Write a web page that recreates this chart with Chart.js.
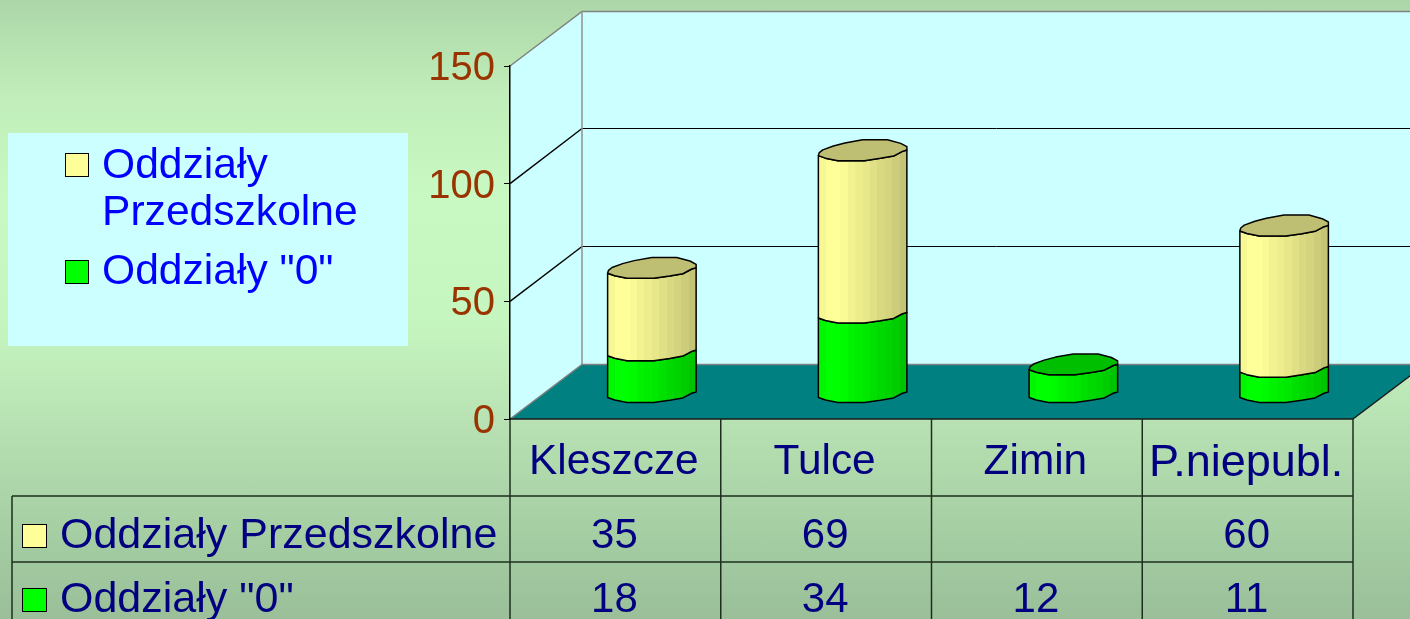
<!DOCTYPE html>
<html>
<head>
<meta charset="utf-8">
<title>Oddziały</title>
<script src="https://cdn.jsdelivr.net/npm/chart.js@4"></script>
<style>
html,body{margin:0;padding:0;width:1410px;height:619px;overflow:hidden;
background:linear-gradient(180deg,#ACD6A8 0%,#C0EDB9 15%,#C9F9C3 32%,#C6F6C0 52%,#B8E2B3 68%,#A6CFA4 85%,#9ABF99 100%);}
canvas{display:block}
</style>
</head>
<body>
<canvas id="c" width="1410" height="619"></canvas>
<script>
const categories = ['Kleszcze', 'Tulce', 'Zimin', 'P.niepubl.'];
const seriesPrzedszkolne = [35, 69, null, 60];
const seriesZero = [18, 34, 12, 11];
const namePrzedszkolne = 'Oddziały Przedszkolne';
const nameZero = 'Oddziały "0"';
const legendLinesPrzedszkolne = ['Oddziały', 'Przedszkolne'];
const yTicks = [0, 50, 100, 150];

const FONT = '"Liberation Sans", Arial, sans-serif';
const DEPTH_X = 72, DEPTH_Y = 54.5;
const YELLOW = '#FFFF99', GREEN = '#00FF00', NAVY = '#000080';

// Slanted, slightly polygonal outline of a PowerPoint-style cylinder
const FRONT = [[0,6.3],[0.08,8.8],[0.22,11.3],[0.52,11.3],[0.7,9],[0.85,6.7],[0.95,2],[1,0.7]];
const BACK  = [[1,-2.7],[0.93,-6],[0.78,-9.6],[0.5,-9.6],[0.3,-6.4],[0.17,-3.4],[0.05,0.5],[0.01,3.3]];
const SHADE = [0.97,1,1,0.98,0.95,0.93,0.91,0.88,0.85,0.83,0.8,0.77];

function scaleHex(hex, f){
  const n = parseInt(hex.slice(1),16);
  const r = Math.round((n>>16&255)*f), g = Math.round((n>>8&255)*f), b = Math.round((n&255)*f);
  return `rgb(${r},${g},${b})`;
}
function bands(ctx, x0, w, color){
  const g = ctx.createLinearGradient(x0,0,x0+w,0);
  SHADE.forEach((f,i)=>{
    g.addColorStop(i/SHADE.length, scaleHex(color,f));
    g.addColorStop((i+1)/SHADE.length, scaleHex(color,f));
  });
  return g;
}
function drawBody(ctx, el, color, topCap){
  const x0 = el.x - el.width/2 + DEPTH_X/2 + 0.5, w = el.width;
  const top = el.y - DEPTH_Y/2, bot = el.base - DEPTH_Y/2;
  ctx.beginPath();
  FRONT.forEach(([t,d],i)=>{ const px=x0+t*w, py=top+d; i?ctx.lineTo(px,py):ctx.moveTo(px,py); });
  [...FRONT].reverse().forEach(([t,d])=>ctx.lineTo(x0+t*w, bot+d));
  ctx.closePath();
  ctx.fillStyle = bands(ctx,x0,w,color);
  ctx.fill();
  ctx.lineWidth = 1.5; ctx.strokeStyle = '#000'; ctx.lineJoin='round';
  ctx.stroke();
  if(topCap){
    ctx.beginPath();
    FRONT.forEach(([t,d],i)=>{ const px=x0+t*w, py=top+d; i?ctx.lineTo(px,py):ctx.moveTo(px,py); });
    BACK.forEach(([t,d])=>ctx.lineTo(x0+t*w, top+d));
    ctx.closePath();
    ctx.fillStyle = scaleHex(color,0.75);
    ctx.fill();
    ctx.stroke();
  }
}
function line(ctx, pts, color, width){
  ctx.beginPath();
  pts.forEach(([x,y],i)=> i?ctx.lineTo(x,y):ctx.moveTo(x,y));
  ctx.strokeStyle=color; ctx.lineWidth=width; ctx.stroke();
}
function swatch(ctx,x,y,w,h,color){
  ctx.fillStyle=color; ctx.fillRect(x+.5,y+.5,w,h);
  ctx.strokeStyle='#000'; ctx.lineWidth=1; ctx.strokeRect(x+.5,y+.5,w,h);
}

const scene = {
  id:'scene',
  beforeDraw(chart){
    const {ctx, scales:{x,y}} = chart;
    const L=x.left, R=x.right, T=y.top, B=y.bottom;
    ctx.save();
    // walls
    ctx.fillStyle='#CCFFFF';
    ctx.beginPath();
    ctx.moveTo(L,B);ctx.lineTo(L,T);ctx.lineTo(L+DEPTH_X,T-DEPTH_Y);
    ctx.lineTo(R+DEPTH_X,T-DEPTH_Y);ctx.lineTo(R+DEPTH_X,B-DEPTH_Y);ctx.lineTo(L+DEPTH_X,B-DEPTH_Y);
    ctx.closePath();ctx.fill();
    // floor
    ctx.fillStyle='#008080';
    ctx.beginPath();
    ctx.moveTo(L,B);ctx.lineTo(L+DEPTH_X,B-DEPTH_Y);ctx.lineTo(R+DEPTH_X,B-DEPTH_Y);ctx.lineTo(R,B);
    ctx.closePath();ctx.fill();
    // perspective grid
    yTicks.forEach(v=>{
      if(v===0||v===yTicks[yTicks.length-1]) return;
      const py=y.getPixelForValue(v);
      const back=Math.round(py-DEPTH_Y)-0.5;
      line(ctx,[[L,py],[L+DEPTH_X,back]],'#000',1.4);
      line(ctx,[[L+DEPTH_X,back],[R+DEPTH_X,back]],'#000',1);
    });
    line(ctx,[[L,T],[L+DEPTH_X,T-DEPTH_Y],[R+DEPTH_X,T-DEPTH_Y]],'#808080',1.5);
    line(ctx,[[L+DEPTH_X,T-DEPTH_Y],[L+DEPTH_X,B-DEPTH_Y]],'#909090',1.5);
    line(ctx,[[L,B],[L+DEPTH_X,B-DEPTH_Y],[R+DEPTH_X,B-DEPTH_Y]],'#808080',1.5);
    line(ctx,[[R,B],[R+DEPTH_X,B-DEPTH_Y]],'#1a1a1a',1.5);
    // data table
    const band=x.width/categories.length, row1=496, row2=562, tableLeft=12, gridColor='#1E2E1E';
    line(ctx,[[L,B],[R,B]],'#1a1a1a',1.5);
    line(ctx,[[tableLeft,row1],[R,row1]],gridColor,1.5);
    line(ctx,[[tableLeft,row2],[R,row2]],gridColor,1.5);
    line(ctx,[[tableLeft,row1],[tableLeft,619]],gridColor,1.5);
    for(let i=0;i<=categories.length;i++) line(ctx,[[L+i*band,B],[L+i*band,619]],gridColor,1.5);
    ctx.font='43px '+FONT; ctx.fillStyle=NAVY; ctx.textBaseline='alphabetic'; ctx.textAlign='left';
    ctx.fillText(namePrzedszkolne,60,548);
    ctx.fillText(nameZero,60,612);
    swatch(ctx,22,524,24,23,YELLOW);
    swatch(ctx,22,588,24,23,GREEN);
    ctx.font='42px '+FONT;
    ctx.textAlign='center'; ctx.fillStyle=NAVY;
    categories.forEach((c,i)=>{
      const cx=x.getPixelForValue(i)-1;
      if(seriesPrzedszkolne[i]!=null) ctx.fillText(String(seriesPrzedszkolne[i]),cx,548);
      if(seriesZero[i]!=null) ctx.fillText(String(seriesZero[i]),cx,612);
    });
    // legend box
    ctx.fillStyle='#CCFFFF'; ctx.fillRect(8,133,400,213);
    ctx.font='42.6px '+FONT;
    ctx.textAlign='left'; ctx.fillStyle='#0000FF';
    ctx.fillText(legendLinesPrzedszkolne[0],102,178);
    ctx.fillText(legendLinesPrzedszkolne[1],102,225);
    ctx.fillText(nameZero,102,284);
    swatch(ctx,65,153,23,23,YELLOW);
    swatch(ctx,65,260,23,23,GREEN);
    ctx.restore();
  },
  beforeDatasetsDraw(chart){
    const ctx=chart.ctx;
    const m0=chart.getDatasetMeta(0), m1=chart.getDatasetMeta(1);
    ctx.save();
    categories.forEach((c,i)=>{
      const hasUpper = seriesPrzedszkolne[i]!=null;
      drawBody(ctx,m0.data[i],GREEN,!hasUpper);
      if(hasUpper) drawBody(ctx,m1.data[i],YELLOW,true);
    });
    ctx.restore();
    return false;
  }
};

new Chart(document.getElementById('c'),{
  type:'bar',
  data:{
    labels:categories,
    datasets:[
      {label:nameZero,data:seriesZero,backgroundColor:GREEN,borderColor:'#000',stack:'s'},
      {label:namePrzedszkolne,data:seriesPrzedszkolne,backgroundColor:YELLOW,borderColor:'#000',stack:'s'}
    ]
  },
  options:{
    responsive:false,animation:false,
    layout:{padding:{left:420,top:66,right:57,bottom:0}},
    categoryPercentage:0.42,barPercentage:1,
    events:[],
    plugins:{legend:{display:false},title:{display:false},tooltip:{enabled:false}},
    scales:{
      x:{
        stacked:true,
        afterFit(s){s.height=200;},
        grid:{drawOnChartArea:false,drawTicks:false},
        border:{display:false},
        ticks:{color:NAVY,
          font:(c)=>({family:FONT,size:categories[c.index]==='P.niepubl.'?45:42.4}),
          padding:18,labelOffset:-1.5,maxRotation:0,autoSkip:false}
      },
      y:{
        stacked:true,min:0,max:150,
        afterFit(s){s.width=90;},
        grid:{drawOnChartArea:false,drawTicks:true,tickLength:6,color:'#000'},
        border:{display:true,color:'#000',width:1.5},
        ticks:{color:'#993300',font:{family:FONT,size:40},stepSize:50,padding:9,labelOffset:3}
      }
    }
  },
  plugins:[scene]
});
</script>
</body>
</html>
